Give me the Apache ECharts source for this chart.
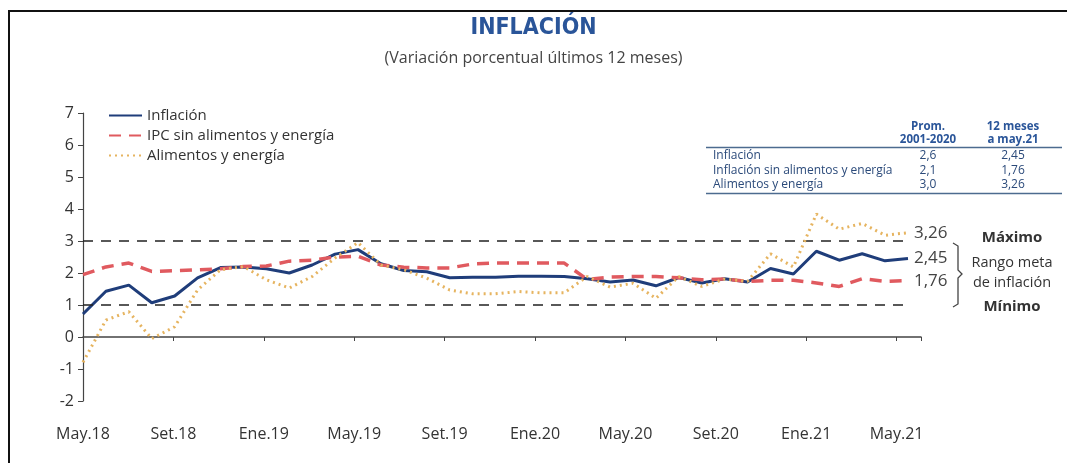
<!DOCTYPE html>
<html>
<head>
<meta charset="utf-8">
<script src="https://cdn.jsdelivr.net/npm/echarts@6/dist/echarts.min.js"></script>
<style>
  html, body { margin: 0; padding: 0; background: #fff; }
  #chart { width: 1067px; height: 463px; }
</style>
</head>
<body>
<div id="chart"></div>
<script>
/*
 * Inflación: variación porcentual últimos 12 meses (May.18 - May.21)
 */
var tickLabels = ['May.18', 'Set.18', 'Ene.19', 'May.19', 'Set.19', 'Ene.20', 'May.20', 'Set.20', 'Ene.21', 'May.21'];

var inflacion = [0.72, 1.43, 1.62, 1.07, 1.28, 1.85, 2.17, 2.19,
	2.13, 2.00, 2.25, 2.59, 2.73, 2.29, 2.08, 2.04, 1.85, 1.87, 1.87, 1.90,
	1.90, 1.89, 1.82, 1.72, 1.78, 1.60, 1.86, 1.69, 1.82, 1.72, 2.14, 1.97,
	2.68, 2.40, 2.60, 2.38, 2.45];

var sinAlimentos = [1.95, 2.19, 2.31, 2.05, 2.07, 2.10, 2.13, 2.20,
	2.22, 2.37, 2.40, 2.50, 2.52, 2.25, 2.18, 2.16, 2.16, 2.28, 2.31, 2.31,
	2.31, 2.31, 1.80, 1.87, 1.89, 1.89, 1.85, 1.79, 1.81, 1.74, 1.77, 1.77,
	1.69, 1.58, 1.82, 1.74, 1.76];

var alimentos = [-0.79, 0.53, 0.79, -0.05, 0.32, 1.47, 2.10, 2.20,
	1.79, 1.53, 1.89, 2.47, 2.95, 2.25, 2.10, 1.84, 1.47, 1.35, 1.35, 1.42,
	1.38, 1.38, 1.89, 1.56, 1.68, 1.21, 1.89, 1.58, 1.81, 1.74, 2.60, 2.19,
	3.84, 3.37, 3.55, 3.18, 3.26];

// rango meta
var rangoMax = 3;
var rangoMin = 1;

// tabla
var tablaFilas = ['Inflación', 'Inflación sin alimentos y energía', 'Alimentos y energía'];
var tablaProm = ['2,6', '2,1', '3,0'];
var tablaUltimo = ['2,45', '1,76', '3,26'];

var FONT = "'Open Sans', 'Noto Sans', sans-serif";
var NARROW = "'DejaVu Sans Condensed', 'Open Sans', sans-serif";

function pares(arr) {
	var out = [];
	for (var i = 0; i < arr.length; i++) {
		out.push([i, arr[i]]);
	}
	return out;
}

function fmt(v) {
	return v.toFixed(2).replace('.', ',');
}

function etiqueta(v) {
	var k = Math.round(v / 4);
	return (Math.abs(v - k * 4) < 0.01 && tickLabels[k]) ? tickLabels[k] : '';
}

var dom = document.getElementById('chart');
var myChart = echarts.init(dom, null, { renderer: 'canvas' });

var nPts = inflacion.length - 1;
var gridW = 1067 - 83 - 146;
// data ends at x=908, tick labels use their own spacing
var dataMax = nPts * gridW / 825;
var tickMax = 4 * gridW / 90.4;

var graphic = [
	// marco
	{ type: 'polyline', silent: true, shape: { points: [[9, 470], [9, 11], [1070, 11]] },
	  style: { stroke: '#111', lineWidth: 2, fill: null } },
	// llave del rango meta
	{ type: 'polyline', silent: true,
	  shape: { points: [[953, 243], [958, 246], [958, 270], [962, 274], [958, 278], [958, 304], [953, 307]] },
	  style: { stroke: '#444', lineWidth: 1.3, fill: null } },
	{ type: 'text', x: 1012, y: 238, style: { text: 'Máximo', font: 'bold 15px ' + FONT, fill: '#333', align: 'center', verticalAlign: 'middle' } },
	{ type: 'text', x: 1012, y: 263, style: { text: 'Rango meta', font: '14.5px ' + FONT, fill: '#333', align: 'center', verticalAlign: 'middle' } },
	{ type: 'text', x: 1012, y: 283, style: { text: 'de inflación', font: '14.5px ' + FONT, fill: '#333', align: 'center', verticalAlign: 'middle' } },
	{ type: 'text', x: 1012, y: 307, style: { text: 'Mínimo', font: 'bold 15px ' + FONT, fill: '#333', align: 'center', verticalAlign: 'middle' } },
	// tabla
	{ type: 'text', x: 928, y: 127, style: { text: 'Prom.', font: 'bold 11.5px ' + FONT, fill: '#2a5599', align: 'center', verticalAlign: 'middle' } },
	{ type: 'text', x: 928, y: 140, style: { text: '2001-2020', font: 'bold 11.5px ' + FONT, fill: '#2a5599', align: 'center', verticalAlign: 'middle' } },
	{ type: 'text', x: 1013, y: 127, style: { text: '12 meses', font: 'bold 11.5px ' + FONT, fill: '#2a5599', align: 'center', verticalAlign: 'middle' } },
	{ type: 'text', x: 1013, y: 140, style: { text: 'a may.21', font: 'bold 11.5px ' + FONT, fill: '#2a5599', align: 'center', verticalAlign: 'middle' } },
	{ type: 'line', silent: true, shape: { x1: 706, y1: 147.5, x2: 1062, y2: 147.5 }, style: { stroke: '#4d6b8f', lineWidth: 1.5 } },
	{ type: 'line', silent: true, shape: { x1: 706, y1: 193.5, x2: 1062, y2: 193.5 }, style: { stroke: '#4d6b8f', lineWidth: 1.5 } }
];
for (var r = 0; r < tablaFilas.length; r++) {
	var yy = 156 + r * 14.5;
	graphic.push({ type: 'text', x: 713, y: yy, style: { text: tablaFilas[r], font: '12px ' + FONT, fill: '#2b4a7a', verticalAlign: 'middle' } });
	graphic.push({ type: 'text', x: 928, y: yy, style: { text: tablaProm[r], font: '12px ' + FONT, fill: '#2b4a7a', align: 'center', verticalAlign: 'middle' } });
	graphic.push({ type: 'text', x: 1013, y: yy, style: { text: tablaUltimo[r], font: '12px ' + FONT, fill: '#2b4a7a', align: 'center', verticalAlign: 'middle' } });
}

var endLabel = {
	show: true,
	distance: 6,
	fontSize: 17,
	fontFamily: FONT,
	color: '#444',
	formatter: function(p) { return fmt(p.value[1]); }
};

option = {
	animation: false,
	backgroundColor: '#fff',
	title: {
		left: 'center',
		top: 12,
		text: 'INFLACIÓN',
		subtext: '(Variación porcentual últimos 12 meses)',
		itemGap: 10,
		textStyle: { fontSize: 23, fontWeight: 'bold', color: '#2a5599', fontFamily: NARROW },
		subtextStyle: { fontSize: 16, color: '#444', fontFamily: FONT }
	},
	legend: {
		orient: 'vertical',
		left: 103,
		top: 103,
		itemWidth: 33,
		itemHeight: 14,
		itemGap: 5,
		itemStyle: { opacity: 0 },
		textStyle: { fontSize: 15, color: '#333', fontFamily: FONT },
		data: ['Inflación', 'IPC sin alimentos y energía', 'Alimentos y energía']
	},
	grid: { left: 83, right: 146, top: 113, bottom: 62, containLabel: false, outerBoundsMode: 'none' },
	xAxis: [
		{
			// etiquetas al pie del gráfico
			type: 'value',
			position: 'bottom',
			min: 0,
			max: tickMax,
			interval: 4,
			axisLine: { show: false, onZero: false },
			axisTick: { show: false },
			splitLine: { show: false },
			axisLabel: {
				margin: 25,
				fontSize: 16,
				color: '#333',
				fontFamily: FONT,
				showMaxLabel: false,
				formatter: etiqueta
			}
		},
		{
			// línea del eje en cero con marcas
			type: 'value',
			position: 'bottom',
			min: 0,
			max: tickMax,
			interval: 4,
			axisLine: { onZero: true, lineStyle: { color: '#444', width: 1.5 } },
			axisTick: { show: true, length: 4, inside: false, lineStyle: { color: '#444' } },
			splitLine: { show: false },
			axisLabel: { show: false }
		},
		{
			// eje de datos (oculto)
			type: 'value',
			min: 0,
			max: dataMax,
			show: false
		}
	],
	yAxis: {
		type: 'value',
		min: -2,
		max: 7,
		interval: 1,
		axisLine: { show: true, onZero: false, lineStyle: { color: '#444', width: 1.2 } },
		axisTick: { show: true, length: 5, lineStyle: { color: '#444' } },
		splitLine: { show: false },
		axisLabel: { fontSize: 16, color: '#333', fontFamily: FONT, margin: 9 }
	},
	graphic: graphic,
	series: [
		{
			name: 'Inflación',
			type: 'line',
			xAxisIndex: 2,
			symbol: 'none',
			z: 3,
			lineStyle: { color: '#1f3d7a', width: 3 },
			itemStyle: { color: '#1f3d7a' },
			endLabel: endLabel,
			data: pares(inflacion),
			markLine: {
				silent: true,
				symbol: 'none',
				label: { show: false },
				lineStyle: { color: '#222', width: 1.5, type: [10, 8] },
				data: [
					[{ coord: [0, rangoMax] }, { coord: [nPts, rangoMax] }],
					[{ coord: [0, rangoMin] }, { coord: [nPts, rangoMin] }]
				]
			}
		},
		{
			name: 'IPC sin alimentos y energía',
			type: 'line',
			xAxisIndex: 2,
			symbol: 'none',
			z: 4,
			lineStyle: { color: '#e05a5f', width: 3.5, type: [12, 8] },
			itemStyle: { color: '#e05a5f' },
			endLabel: endLabel,
			data: pares(sinAlimentos)
		},
		{
			name: 'Alimentos y energía',
			type: 'line',
			xAxisIndex: 2,
			symbol: 'none',
			z: 5,
			lineStyle: { color: '#e6b460', width: 3, type: [2, 4] },
			itemStyle: { color: '#e6b460' },
			endLabel: endLabel,
			data: pares(alimentos)
		}
	]
};
myChart.setOption(option);
</script>
</body>
</html>
